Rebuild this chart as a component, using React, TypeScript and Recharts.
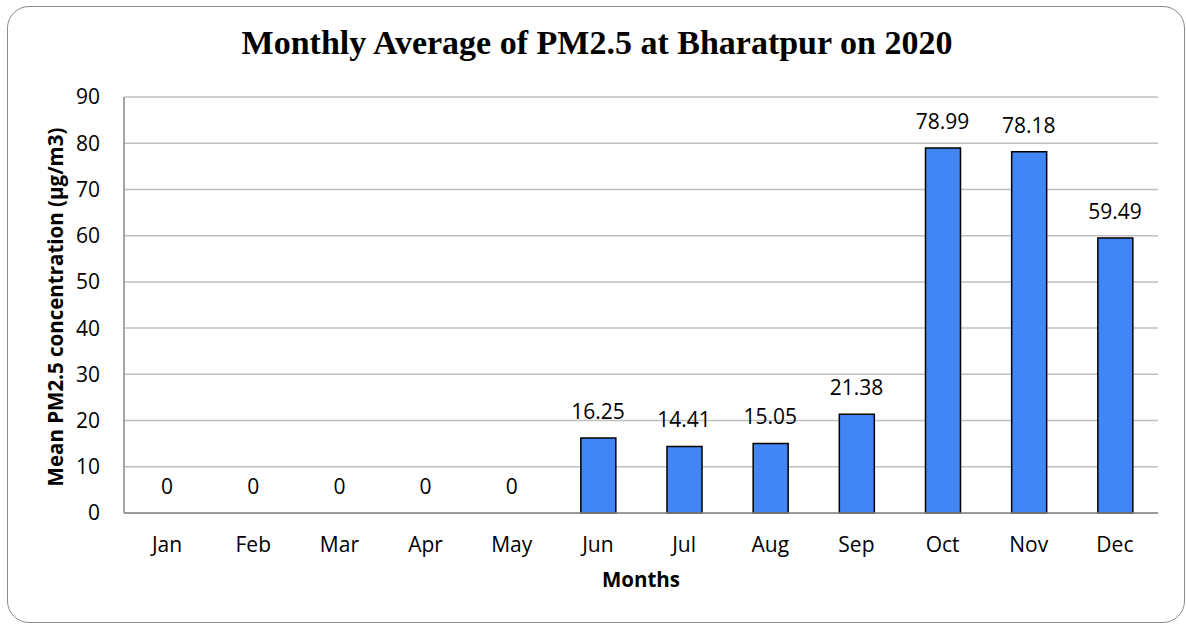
import React from "react";
import { ComposedChart, Bar, Line, XAxis, YAxis, CartesianGrid, LabelList, Label } from "recharts";

const months = ["Jan", "Feb", "Mar", "Apr", "May", "Jun", "Jul", "Aug", "Sep", "Oct", "Nov", "Dec"];
const pm25 = [0, 0, 0, 0, 0, 16.25, 14.41, 15.05, 21.38, 78.99, 78.18, 59.49];
const yTicks = [0, 10, 20, 30, 40, 50, 60, 70, 80, 90];

const chartTitle = "Monthly Average of PM2.5 at Bharatpur on 2020";
const yTitle = "Mean PM2.5 concentration (µg/m3)";
const xTitle = "Months";

const data = months.map((m, i) => ({ month: m, value: pm25[i] }));

const FONT = "'Open Sans', sans-serif";

const renderValueLabel = (props: any) => {
  const { x, y, value } = props;
  return (
    <text
      x={Number(x)}
      y={Number(y) - 19}
      textAnchor="middle"
      fontFamily={FONT}
      fontSize={21}
      fill="#000"
    >
      {String(value)}
    </text>
  );
};

export default function App() {
  return (
    <div style={{ position: "absolute", left: 0, top: 0, width: 1186, height: 625, overflow: "hidden", background: "#fff" }}>
      <div
        style={{
          position: "absolute",
          left: 7,
          top: 6,
          width: 1178,
          height: 617,
          border: "1.5px solid #8a8a8a",
          borderRadius: 22,
          boxSizing: "border-box",
        }}
      />
      <div
        style={{
          position: "absolute",
          left: 0,
          top: 26,
          width: 1194,
          textAlign: "center",
          fontFamily: "'Liberation Serif', serif",
          fontWeight: "bold",
          fontSize: 34,
          lineHeight: 1,
          color: "#000",
          whiteSpace: "nowrap",
        }}
      >
        {chartTitle}
      </div>
      <div style={{ position: "absolute", left: 0, top: 0 }}>
        <ComposedChart
          width={1186}
          height={625}
          data={data}
          margin={{ top: 97, right: 28, left: 0, bottom: 62 }}
          barSize={35}
        >
          <CartesianGrid vertical={false} stroke="#c0c0c0" strokeWidth={1.5} />
          <XAxis
            dataKey="month"
            axisLine={{ stroke: "#8a8a8a", strokeWidth: 1.5 }}
            tickLine={false}
            tickSize={0}
            tickMargin={24}
            height={50}
            tick={{ fill: "#000", fontSize: 21, fontFamily: FONT }}
            interval={0}
          >
            <Label
              content={(props: any) => {
                const vb = props.viewBox;
                return (
                  <text
                    x={vb.x + vb.width / 2}
                    y={vb.y + 74}
                    textAnchor="middle"
                    fontFamily={FONT}
                    fontWeight="bold"
                    fontSize={20.5}
                    fill="#000"
                  >
                    {xTitle}
                  </text>
                );
              }}
            />
          </XAxis>
          <YAxis
            domain={[0, 90]}
            ticks={yTicks}
            width={124}
            axisLine={{ stroke: "#8a8a8a", strokeWidth: 1.5 }}
            tickLine={false}
            tickSize={0}
            tickMargin={24}
            tick={{ fill: "#000", fontSize: 21, fontFamily: FONT }}
            interval={0}
          >
            <Label
              content={(props: any) => {
                const vb = props.viewBox;
                const cx = vb.x + 63;
                const cy = vb.y + vb.height / 2 + 2;
                return (
                  <text
                    x={cx}
                    y={cy}
                    transform={`rotate(-90 ${cx} ${cy})`}
                    textAnchor="middle"
                    fontFamily={FONT}
                    fontWeight="bold"
                    fontSize={20.5}
                    fill="#000"
                  >
                    {yTitle}
                  </text>
                );
              }}
            />
          </YAxis>
          <Bar dataKey="value" fill="#4285f4" stroke="#000" strokeWidth={1.5} isAnimationActive={false} />
          <Line
            dataKey="value"
            stroke="none"
            dot={false}
            activeDot={false}
            legendType="none"
            isAnimationActive={false}
          >
            <LabelList dataKey="value" content={renderValueLabel} />
          </Line>
        </ComposedChart>
      </div>
    </div>
  );
}
